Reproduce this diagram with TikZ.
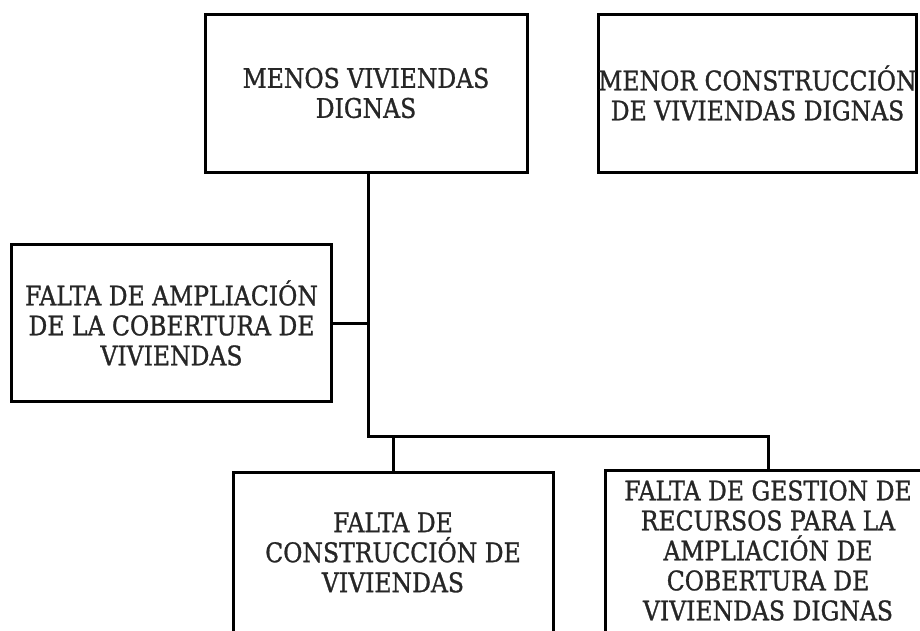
\documentclass[tikz,border=0pt]{standalone}
\usepackage{fontspec}
\setmainfont[FakeStretch=0.87,FakeBold=1]{DejaVu Serif}
\begin{document}
\begin{tikzpicture}[x=1pt,y=-1pt,
  box/.style={draw=black,line width=3pt,align=center,inner sep=0pt,
    font=\fontsize{27}{30}\selectfont,text=black!85},
  openbox/.style={box,draw=none},
  link/.style={draw=black,line width=3pt}]
\useasboundingbox (0,0) rectangle (920,630);
\clip (0,0) rectangle (920,630);
\node[box,minimum width=322pt,minimum height=158pt] (b1) at (366,93) {MENOS VIVIENDAS\\DIGNAS};
\node[box,minimum width=318pt,minimum height=158pt] (b2) at (757.5,93) {MENOR CONSTRUCCIÓN\\DE VIVIENDAS DIGNAS};
\node[box,minimum width=320pt,minimum height=157pt] (b3) at (171.5,323) {FALTA DE AMPLIACIÓN\\DE LA COBERTURA DE\\VIVIENDAS};
\node[openbox,minimum width=317pt,minimum height=158pt] (b4) at (393,552.5) {FALTA DE\\CONSTRUCCIÓN DE\\VIVIENDAS};
\node[openbox,minimum width=322pt,minimum height=158pt] (b5) at (768,550.5) {FALTA DE GESTION DE\\RECURSOS PARA LA\\AMPLIACIÓN DE\\COBERTURA DE\\VIVIENDAS DIGNAS};
\draw[link] (b4.north west) rectangle ([yshift=-20pt]b4.south east);
\draw[link] (b5.north west) rectangle ([yshift=-20pt]b5.south east);
\coordinate (t) at (368,436);
\coordinate (m) at (368,323);
\draw[link] (b1.south -| t) -- (t) -| (b5.north);
\draw[link] (b3.east) -- (m);
\draw[link] (b4.north) -- (b4.north |- t);
\end{tikzpicture}
\end{document}
